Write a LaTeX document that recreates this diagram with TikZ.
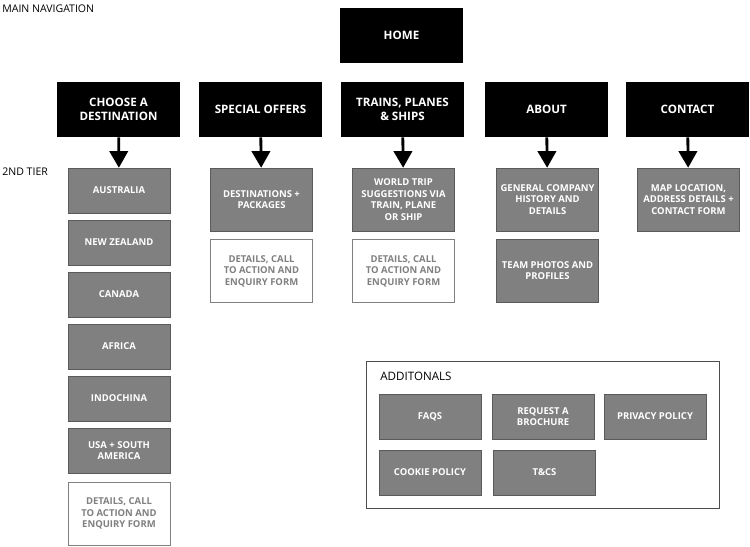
\documentclass[tikz,border=0pt]{standalone}
\usepackage{fontspec}
\setmainfont{Open Sans}
\usetikzlibrary{arrows}
\definecolor{boxgray}{HTML}{808080}
\tikzset{
  navbox/.style={fill=black,text=white,font=\fontsize{6.6}{8}\selectfont\bfseries,align=center,minimum width=2.46cm,minimum height=1.1cm,inner sep=1pt},
  tierbox/.style={fill=boxgray,draw=boxgray!70!black,text=white,font=\fontsize{5.4}{6.6}\selectfont\bfseries,align=center,minimum width=2.04cm,inner sep=1pt},
  formbox/.style={fill=white,draw=boxgray,text=boxgray,font=\fontsize{5.4}{6.6}\selectfont\bfseries,align=center,minimum width=2.04cm,minimum height=1.26cm,inner sep=1pt},
  navarrow/.style={-triangle 60,line width=1.6pt},
  tag/.style={anchor=west,font=\fontsize{6}{7}\selectfont,inner sep=0pt}
}
\begin{document}
\begin{tikzpicture}[x=0.02cm,y=-0.02cm]
\useasboundingbox (0,0) rectangle (750,547);

\node[tag] (mainlbl) at (2,9) {MAIN NAVIGATION};
\node[tag] (tierlbl) at (2,172) {2ND TIER};

% main navigation
\node[navbox] (home) at (401.5,35.5) {HOME};
\node[navbox] (dest) at (118.5,109.5) {CHOOSE A\\DESTINATION};
\node[navbox] (offers) at (260.5,109.5) {SPECIAL OFFERS};
\node[navbox] (trains) at (402.5,109.5) {TRAINS, PLANES\\\& SHIPS};
\node[navbox] (about) at (546.5,109.5) {ABOUT};
\node[navbox] (contact) at (687.5,109.5) {CONTACT};

% 2nd tier, destinations
\node[tierbox,minimum height=0.9cm] (aus) at (119,190.5) {AUSTRALIA};
\node[tierbox,minimum height=0.9cm] (nz) at (119,242.5) {NEW ZEALAND};
\node[tierbox,minimum height=0.9cm] (can) at (119,294.5) {CANADA};
\node[tierbox,minimum height=0.9cm] (afr) at (119,346.5) {AFRICA};
\node[tierbox,minimum height=0.9cm] (indo) at (119,398.5) {INDOCHINA};
\node[tierbox,minimum height=0.9cm] (usa) at (119,450.5) {USA + SOUTH\\AMERICA};
\node[formbox] (destform) at (119,513.5) {DETAILS, CALL\\TO ACTION AND\\ENQUIRY FORM};

% 2nd tier, others
\node[tierbox,minimum height=1.26cm] (pack) at (261.5,199.5) {DESTINATIONS +\\PACKAGES};
\node[formbox] (offform) at (261.5,271) {DETAILS, CALL\\TO ACTION AND\\ENQUIRY FORM};
\node[tierbox,minimum height=1.26cm] (trip) at (403.5,199.5) {WORLD TRIP\\SUGGESTIONS VIA\\TRAIN, PLANE\\OR SHIP};
\node[formbox] (tripform) at (403.5,271) {DETAILS, CALL\\TO ACTION AND\\ENQUIRY FORM};
\node[tierbox,minimum height=1.26cm] (hist) at (547.5,199.5) {GENERAL COMPANY\\HISTORY AND\\DETAILS};
\node[tierbox,minimum height=1.26cm] (team) at (547.5,270.5) {TEAM PHOTOS AND\\PROFILES};
\node[tierbox,minimum height=1.26cm] (map) at (688.5,199.5) {MAP LOCATION,\\ADDRESS DETAILS +\\CONTACT FORM};

\foreach \a/\b in {dest/aus,offers/pack,trains/trip,about/hist,contact/map}
  \draw[navarrow] (\a) -- (\b);

% additionals
\draw[boxgray!60!black] (366,361) rectangle (719,508);
\node[tag,font=\fontsize{6.6}{8}\selectfont] (addlbl) at (380,376) {ADDITONALS};
\node[tierbox,minimum height=0.9cm] (faq) at (430,416.5) {FAQS};
\node[tierbox,minimum height=0.9cm] (broch) at (543,416.5) {REQUEST A\\BROCHURE};
\node[tierbox,minimum height=0.9cm] (priv) at (655,416.5) {PRIVACY POLICY};
\node[tierbox,minimum height=0.9cm] (cookie) at (430,472.5) {COOKIE POLICY};
\node[tierbox,minimum height=0.9cm] (tcs) at (544.5,472.5) {T\&CS};
\end{tikzpicture}
\end{document}
